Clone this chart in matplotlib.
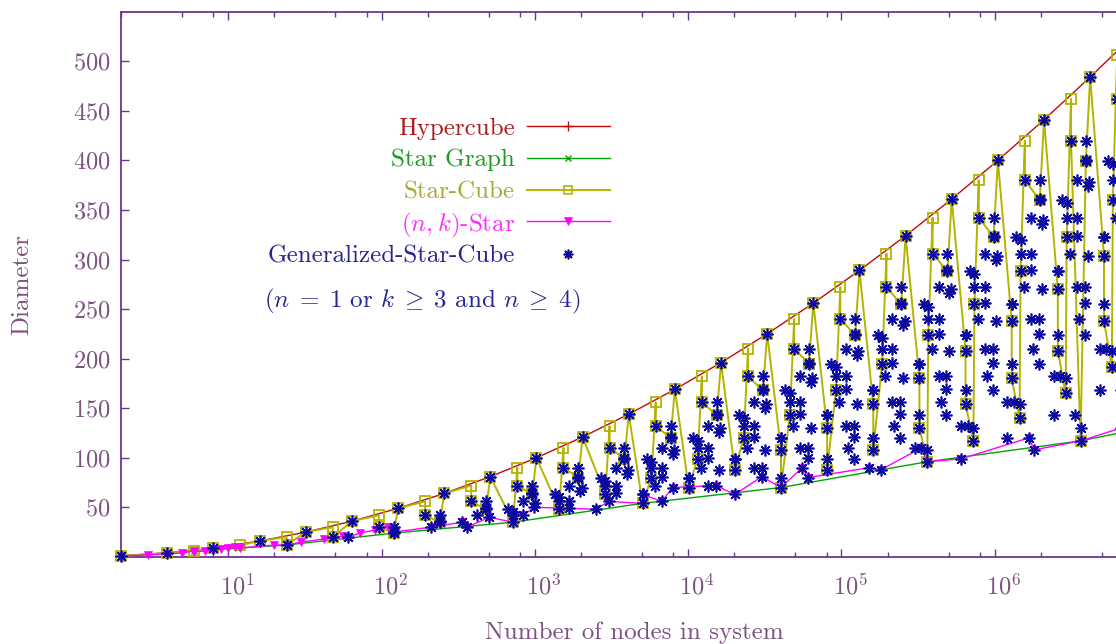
import matplotlib
matplotlib.use('Agg')
import matplotlib.pyplot as plt
import matplotlib.transforms as mtransforms
from matplotlib.ticker import FixedLocator, LogLocator, NullFormatter

plt.rcParams['font.family'] = 'cmr10'
plt.rcParams['mathtext.fontset'] = 'cm'
plt.rcParams['axes.formatter.use_mathtext'] = True
plt.rcParams['axes.unicode_minus'] = False

# ==========================================
# data: number of nodes / diameter
# ==========================================
hyper_nodes = [2, 4, 8, 16, 32, 64, 128, 256, 512, 1024, 2048, 4096, 8192, 16384, 32768,
               65536, 131072, 262144, 524288, 1048576, 2097152, 4194304, 8388608]
hyper_diam = [1, 4, 9, 16, 25, 36, 49, 64, 81, 100, 121, 144, 169, 196, 225,
              256, 289, 324, 361, 400, 441, 484, 529]

star_nodes = [2, 6, 24, 120, 720, 5040, 40320, 362880, 3628800, 39916800]
star_diam = [1, 6, 12, 24, 35, 54, 70, 96, 117, 150]

sc_nodes = [2, 4, 6, 8, 12, 16, 24, 24, 32, 48,
            48, 64, 96, 96, 120, 128, 192, 192, 240, 256,
            384, 384, 480, 512, 720, 768, 768, 960, 1024, 1440,
            1536, 1536, 1920, 2048, 2880, 3072, 3072, 3840, 4096, 5040,
            5760, 6144, 6144, 7680, 8192, 10080, 11520, 12288, 12288, 15360,
            16384, 20160, 23040, 24576, 24576, 30720, 32768, 40320, 40320, 46080,
            49152, 49152, 61440, 65536, 80640, 80640, 92160, 98304, 98304, 122880,
            131072, 161280, 161280, 184320, 196608, 196608, 245760, 262144, 322560, 322560,
            362880, 368640, 393216, 393216, 491520, 524288, 645120, 645120, 725760, 737280,
            786432, 786432, 983040, 1048576, 1290240, 1290240, 1451520, 1474560, 1572864, 1572864,
            1966080, 2097152, 2580480, 2580480, 2903040, 2949120, 3145728, 3145728, 3628800, 3932160,
            4194304, 5160960, 5160960, 5806080, 5898240, 6291456, 6291456, 7257600, 7864320, 8388608]
sc_diam = [1, 4, 6, 9, 12, 16, 20, 12, 25, 30,
           20, 36, 42, 30, 24, 49, 56, 42, 35, 64,
           72, 56, 48, 81, 35, 90, 72, 63, 100, 48,
           110, 90, 80, 121, 63, 132, 110, 99, 144, 54,
           80, 156, 132, 120, 169, 70, 99, 182, 156, 143,
           196, 88, 120, 210, 182, 168, 225, 108, 70, 143,
           240, 210, 195, 256, 130, 88, 168, 272, 240, 224,
           289, 154, 108, 195, 306, 272, 255, 324, 180, 130,
           96, 224, 342, 306, 288, 361, 208, 154, 117, 255,
           380, 342, 323, 400, 238, 180, 140, 288, 420, 380,
           360, 441, 270, 208, 165, 323, 462, 420, 117, 399,
           484, 304, 238, 192, 360, 506, 462, 140, 440, 529]

nk_nodes = [2, 3, 4, 5, 6, 6, 7, 8, 9, 10,
            11, 12, 20, 24, 30, 42, 56, 60, 72, 90,
            110, 120, 120, 210, 336, 360, 504, 720, 720, 840,
            990, 1680, 2520, 3024, 5040, 5040, 6720, 7920, 15120, 20160,
            30240, 40320, 55440, 60480, 151200, 181440, 332640, 362880, 604800, 1663200,
            1814400, 3628800, 6652800]
nk_diam = [1, 2, 3, 4, 6, 5, 6, 7, 8, 9,
           10, 9, 12, 12, 15, 18, 21, 20, 24, 27,
           30, 24, 25, 30, 35, 30, 40, 35, 45, 42,
           50, 49, 48, 56, 54, 63, 56, 70, 72, 63,
           81, 70, 90, 80, 90, 88, 110, 96, 99, 120,
           108, 117, 130]

# Generalized-Star-Cube points (nodes, diameter); the n = 1 points are the hypercube ones
gsc_points = [
    (24, 12), (48, 20), (96, 30), (192, 42), (384, 56), (768, 72), (1536, 90), (3072, 110), (6144, 132),
    (12288, 156), (24576, 182), (49152, 210), (98304, 240), (196608, 272), (393216, 306), (786432, 342),
    (1572864, 380), (3145728, 420), (6291456, 462),
    (60, 20), (120, 30), (240, 42), (480, 56), (960, 72), (1920, 90), (3840, 110), (7680, 132), (15360, 156),
    (30720, 182), (61440, 210), (122880, 240), (245760, 272), (491520, 306), (983040, 342), (1966080, 380),
    (3932160, 420), (7864320, 462),
    (120, 24), (240, 35), (480, 48), (960, 63), (1920, 80), (3840, 99), (7680, 120), (15360, 143), (30720, 168),
    (61440, 195), (122880, 224), (245760, 255), (491520, 288), (983040, 323), (1966080, 360), (3932160, 399),
    (7864320, 440),
    (120, 25), (240, 36), (480, 49), (960, 64), (1920, 81), (3840, 100), (7680, 121), (15360, 144), (30720, 169),
    (61440, 196), (122880, 225), (245760, 256), (491520, 289), (983040, 324), (1966080, 361), (3932160, 400),
    (7864320, 441),
    (360, 30), (720, 42), (1440, 56), (2880, 72), (5760, 90), (11520, 110), (23040, 132), (46080, 156),
    (92160, 182), (184320, 210), (368640, 240), (737280, 272), (1474560, 306), (2949120, 342), (5898240, 380),
    (720, 35), (1440, 48), (2880, 63), (5760, 80), (11520, 99), (23040, 120), (46080, 143), (92160, 168),
    (184320, 195), (368640, 224), (737280, 255), (1474560, 288), (2949120, 323), (5898240, 360),
    (210, 30), (420, 42), (840, 56), (1680, 72), (3360, 90), (6720, 110), (13440, 132), (26880, 156),
    (53760, 182), (107520, 210), (215040, 240), (430080, 272), (860160, 306), (1720320, 342), (3440640, 380),
    (6881280, 420),
    (840, 42), (1680, 56), (3360, 72), (6720, 90), (13440, 110), (26880, 132), (53760, 156), (107520, 182),
    (215040, 210), (430080, 240), (860160, 272), (1720320, 306), (3440640, 342), (6881280, 380),
    (2520, 48), (5040, 63), (10080, 80), (20160, 99), (40320, 120), (80640, 143), (161280, 168), (322560, 195),
    (645120, 224), (1290240, 255), (2580480, 288), (5160960, 323),
    (5040, 54), (10080, 70), (20160, 88), (40320, 108), (80640, 130), (161280, 154), (322560, 180),
    (645120, 208), (1290240, 238), (2580480, 270), (5160960, 304),
    (336, 35), (672, 48), (1344, 63), (2688, 80), (5376, 99), (10752, 120), (21504, 143), (43008, 168),
    (86016, 195), (172032, 224), (344064, 255), (688128, 288), (1376256, 323), (2752512, 360), (5505024, 399),
    (1680, 49), (3360, 64), (6720, 81), (13440, 100), (26880, 121), (53760, 144), (107520, 169), (215040, 196),
    (430080, 225), (860160, 256), (1720320, 289), (3440640, 324), (6881280, 361),
    (6720, 56), (13440, 72), (26880, 90), (53760, 110), (107520, 132), (215040, 156), (430080, 182),
    (860160, 210), (1720320, 240), (3440640, 272), (6881280, 306),
    (20160, 63), (40320, 80), (80640, 99), (161280, 120), (322560, 143), (645120, 168), (1290240, 195),
    (2580480, 224), (5160960, 255),
    (40320, 70), (80640, 88), (161280, 108), (322560, 130), (645120, 154), (1290240, 180), (2580480, 208),
    (5160960, 238),
    (504, 40), (1008, 54), (2016, 70), (4032, 88), (8064, 108), (16128, 130), (32256, 154), (64512, 180),
    (129024, 208), (258048, 238), (516096, 270), (1032192, 304), (2064384, 340), (4128768, 378), (8257536, 418),
    (3024, 56), (6048, 72), (12096, 90), (24192, 110), (48384, 132), (96768, 156), (193536, 182), (387072, 210),
    (774144, 240), (1548288, 272), (3096576, 306), (6193152, 342),
    (15120, 72), (30240, 90), (60480, 110), (120960, 132), (241920, 156), (483840, 182), (967680, 210),
    (1935360, 240), (3870720, 272), (7741440, 306),
    (60480, 80), (120960, 99), (241920, 120), (483840, 143), (967680, 168), (1935360, 195), (3870720, 224),
    (7741440, 255),
    (181440, 88), (362880, 108), (725760, 130), (1451520, 154), (2903040, 180), (5806080, 208),
    (362880, 96), (725760, 117), (1451520, 140), (2903040, 165), (5806080, 192),
    (720, 45), (1440, 60), (2880, 77), (5760, 96), (11520, 117), (23040, 140), (46080, 165), (92160, 192),
    (184320, 221), (368640, 252), (737280, 285), (1474560, 320), (2949120, 357), (5898240, 396),
    (5040, 63), (10080, 80), (20160, 99), (40320, 120), (80640, 143), (161280, 168), (322560, 195),
    (645120, 224), (1290240, 255), (2580480, 288), (5160960, 323),
    (30240, 81), (60480, 100), (120960, 121), (241920, 144), (483840, 169), (967680, 196), (1935360, 225),
    (3870720, 256), (7741440, 289),
    (151200, 90), (302400, 110), (604800, 132), (1209600, 156), (2419200, 182), (4838400, 210), (9676800, 240),
    (604800, 99), (1209600, 120), (2419200, 143), (4838400, 168), (9676800, 195),
    (1814400, 108), (3628800, 130), (7257600, 154),
    (3628800, 117), (7257600, 140),
    (990, 50), (1980, 66), (3960, 84), (7920, 104), (15840, 126), (31680, 150), (63360, 176), (126720, 204),
    (253440, 234), (506880, 266), (1013760, 300), (2027520, 336), (4055040, 374), (8110080, 414),
    (7920, 70), (15840, 88), (31680, 108), (63360, 130), (126720, 154), (253440, 180), (506880, 208),
    (1013760, 238), (2027520, 270), (4055040, 304), (8110080, 340),
    (55440, 90), (110880, 110), (221760, 132), (443520, 156), (887040, 182), (1774080, 210), (3548160, 240),
    (7096320, 272),
    (332640, 110), (665280, 132), (1330560, 156), (2661120, 182), (5322240, 210),
    (1663200, 120), (3326400, 143), (6652800, 168),
    (6652800, 130),
]

series_labels = ['Hypercube', 'Star Graph', 'Star-Cube', r'$(n,k)$-Star', 'Generalized-Star-Cube']
note_text = r'$(n\;=\;1$ or $k\;\geq\;3$ and $n\;\geq\;4)$'
x_tick_labels = [r'$10^{%d}$' % e for e in range(1, 7)] + ['']

# ==========================================
# colours / styles
# ==========================================
frame_col = '#6c3494'
tick_txt = '#7c5280'
red, green, olive, magenta, navy = '#c00a0a', '#00a400', '#b4b400', '#ff00ff', '#0a0aa0'
text_cols = ['#a81e1e', '#1e9a22', '#a8a838', '#ff30ff', '#26268f']
asterisk = (8, 2, 0)

W, H = 1116, 644
fig = plt.figure(figsize=(W / 100, H / 100), dpi=100)
ax = fig.add_axes([121.2 / W, 1 - 556.9 / H, (1148 - 121.2) / W, (556.9 - 11.7) / H])

gsc_x = hyper_nodes + [p[0] for p in gsc_points]
gsc_y = hyper_diam + [p[1] for p in gsc_points]

ax.plot(hyper_nodes, hyper_diam, color=red, lw=1.0, marker='+', ms=7, mew=1.0, clip_on=False, zorder=2)
ax.plot(star_nodes, star_diam, color=green, lw=1.0, marker='x', ms=5, mew=1.0, clip_on=False, zorder=3)
ax.plot(sc_nodes, sc_diam, color=olive, lw=1.4, marker='s', ms=7, mfc='none', mew=1.3,
        clip_on=False, zorder=4)
ax.plot(nk_nodes, nk_diam, color=magenta, lw=1.0, marker='v', ms=6, mew=0.5, clip_on=False, zorder=5)
ax.plot(gsc_x, gsc_y, ls='none', marker=asterisk, ms=8.5, mew=1.2, color=navy, clip_on=False, zorder=6)

ax.set_xscale('log')
ax.set_xlim(2, 1e7)
ax.set_ylim(0, 550)

ax.xaxis.set_major_locator(FixedLocator([10.0 ** e for e in range(1, 8)]))
ax.set_xticklabels(x_tick_labels)
ax.xaxis.set_minor_locator(LogLocator(base=10, subs=(2, 5, 8), numticks=30))
ax.xaxis.set_minor_formatter(NullFormatter())
ax.set_yticks(range(50, 501, 50))

ax.tick_params(axis='both', which='both', direction='in', top=True, right=True,
               color=frame_col, labelcolor=tick_txt, labelsize=17.5)
ax.tick_params(axis='both', which='major', length=6, width=1.0)
ax.tick_params(axis='x', which='minor', length=3.5, width=1.0)
ax.tick_params(axis='x', which='major', pad=12)
ax.tick_params(axis='y', which='major', pad=8)
for sp in ax.spines.values():
    sp.set_color(frame_col)
    sp.set_linewidth(1.3)

# gnuplot puts the "10" on the tick and the exponent to its right
shift = mtransforms.ScaledTranslation(9 / 100, 0, fig.dpi_scale_trans)
for lbl in ax.get_xticklabels():
    lbl.set_transform(lbl.get_transform() + shift)

ax.set_xlabel('Number of nodes in system', fontsize=18, color=tick_txt)
ax.set_ylabel('Diameter', fontsize=18, color=tick_txt)
ax.xaxis.set_label_coords(0.5, -(621 - 556.9) / (556.9 - 11.7))
ax.yaxis.set_label_coords(-(121.2 - 33) / (1148 - 121.2), 0.5)

# ==========================================
# legend (drawn by hand, text left of the sample)
# ==========================================
def fx(px):
    return px / W


def fy(py):
    return 1 - py / H


row_y = [126, 157.5, 189.5, 221, 254]
styles = [
    dict(color=red, lw=1.0, marker='+', ms=7, mew=1.0),
    dict(color=green, lw=1.0, marker='x', ms=5, mew=1.0),
    dict(color=olive, lw=1.4, marker='s', ms=6, mfc='none', mew=1.2),
    dict(color=magenta, lw=1.0, marker='v', ms=5.5, mew=0.5),
    dict(color=navy, ls='none', marker=asterisk, ms=7, mew=1.2),
]
for lab, tc, st, yy in zip(series_labels, text_cols, styles, row_y):
    fig.text(fx(515), fy(yy), lab, ha='right', va='center_baseline', fontsize=18, color=tc)
    fig.add_artist(plt.Line2D([fx(527), fx(610)], [fy(yy), fy(yy)], transform=fig.transFigure,
                              **{k: v for k, v in st.items() if k not in ('marker', 'ms', 'mew', 'mfc')}))
    mk = {k: v for k, v in st.items() if k in ('color', 'marker', 'ms', 'mew', 'mfc')}
    fig.add_artist(plt.Line2D([fx(568)], [fy(yy)], transform=fig.transFigure, ls='none', **mk))

fig.text(fx(422), fy(297), note_text, ha='center', va='center_baseline', fontsize=18, color=text_cols[4])

plt.savefig('out.png', dpi=100)
